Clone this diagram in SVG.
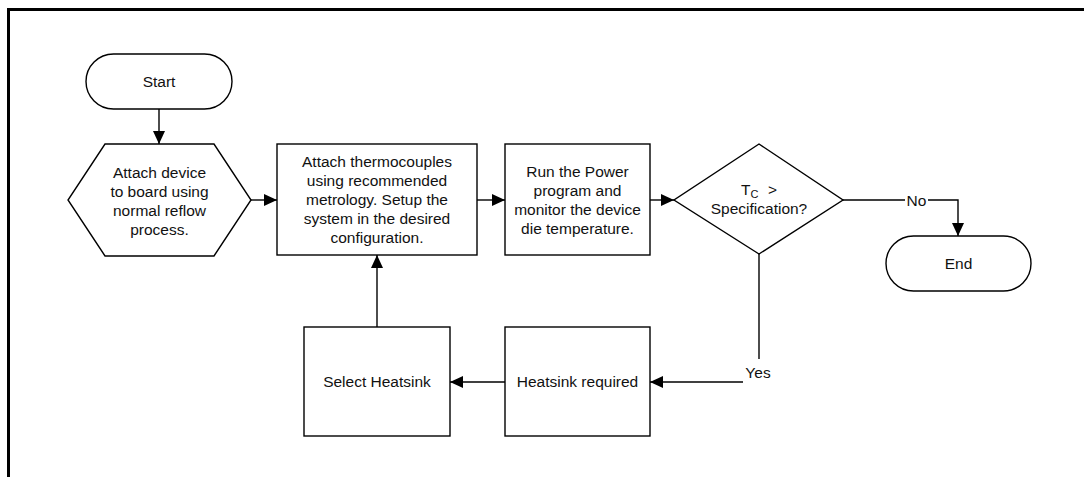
<svg xmlns="http://www.w3.org/2000/svg" width="1084" height="477" viewBox="0 0 1084 477">
<style>
.s{fill:#fff;stroke:#000;stroke-width:1.4}
.t{font-family:"Liberation Sans",Arial,sans-serif;font-size:15.5px;fill:#111;text-anchor:middle;dominant-baseline:central}
.c{fill:none;stroke:#000;stroke-width:1.4}
.f{fill:none;stroke:#000;stroke-width:3}
</style>
<defs>
<marker id="a" markerWidth="13" markerHeight="12" refX="13" refY="6" orient="auto" markerUnits="userSpaceOnUse">
<path d="M0,0 L13,6 L0,12 Z" fill="#000"/>
</marker>
</defs>
<rect width="1084" height="477" fill="#fff"/>
<g id="frame">
<line class="f" x1="8.5" y1="9.5" x2="1084" y2="9.5"/>
<line class="f" x1="8.5" y1="8" x2="8.5" y2="477"/>
</g>
<g id="connectors">
<line class="c" x1="159" y1="109" x2="159" y2="144" marker-end="url(#a)"/>
<line class="c" x1="251" y1="200" x2="277" y2="200" marker-end="url(#a)"/>
<line class="c" x1="477" y1="200" x2="505" y2="200" marker-end="url(#a)"/>
<line class="c" x1="650" y1="200" x2="674" y2="200" marker-end="url(#a)"/>
<path class="c" d="M843,200 H905 M928,200 H958 V236" marker-end="url(#a)"/>
<text class="t" x="916.5" y="200">No</text>
<path class="c" d="M759,254 V359"/>
<text class="t" x="758" y="372">Yes</text>
<line class="c" x1="743" y1="382" x2="650" y2="382" marker-end="url(#a)"/>
<line class="c" x1="505" y1="382" x2="450" y2="382" marker-end="url(#a)"/>
<line class="c" x1="377" y1="327" x2="377" y2="255" marker-end="url(#a)"/>
</g>
<g id="start">
<rect class="s" x="86" y="54" width="146" height="55" rx="27.5"/>
<text class="t" x="159" y="81.5">Start</text>
</g>
<g id="attach-device">
<polygon class="s" points="105,144 214,144 251,200 214,256 105,256 68,200"/>
<text class="t" x="159.5" y="172">Attach device</text>
<text class="t" x="159.5" y="191">to board using</text>
<text class="t" x="159.5" y="210">normal reflow</text>
<text class="t" x="159.5" y="229">process.</text>
</g>
<g id="thermocouples">
<rect class="s" x="277" y="144" width="200" height="111"/>
<text class="t" x="377" y="161">Attach thermocouples</text>
<text class="t" x="377" y="180">using recommended</text>
<text class="t" x="377" y="199">metrology. Setup the</text>
<text class="t" x="377" y="218">system in the desired</text>
<text class="t" x="377" y="237">configuration.</text>
</g>
<g id="run-power">
<rect class="s" x="505" y="144" width="145" height="111"/>
<text class="t" x="577.5" y="171">Run the Power</text>
<text class="t" x="577.5" y="190">program and</text>
<text class="t" x="577.5" y="209">monitor the device</text>
<text class="t" x="577.5" y="228">die temperature.</text>
</g>
<g id="decision">
<polygon class="s" points="759,144 843,200 759,254 674,200"/>
<text class="t" x="741" y="189" style="text-anchor:start">T<tspan font-size="11" dy="5">C</tspan><tspan x="768" dy="-5">&gt;</tspan></text>
<text class="t" x="759" y="208">Specification?</text>
</g>
<g id="end">
<rect class="s" x="886" y="236" width="145" height="55" rx="27.5"/>
<text class="t" x="958.5" y="263">End</text>
</g>
<g id="heatsink-required">
<rect class="s" x="505" y="327" width="145" height="109"/>
<text class="t" x="577.5" y="381.5">Heatsink required</text>
</g>
<g id="select-heatsink">
<rect class="s" x="304" y="327" width="146" height="109"/>
<text class="t" x="377" y="381.5">Select Heatsink</text>
</g>
</svg>
